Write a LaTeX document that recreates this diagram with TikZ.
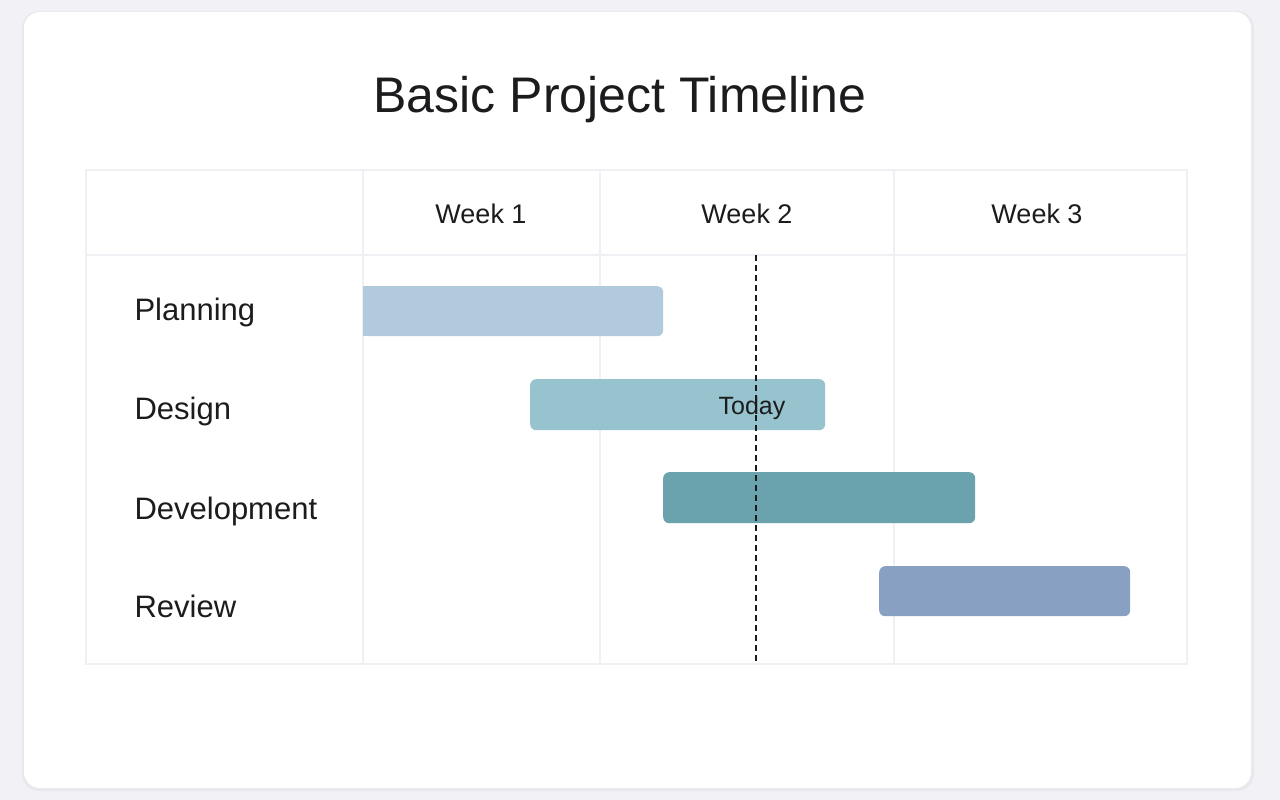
\documentclass[tikz,border=0pt]{standalone}
\usepackage{fontspec}
\setmainfont{Liberation Sans}
\definecolor{pagebg}{HTML}{F2F1F5}
\definecolor{cardedge}{HTML}{E9E8EC}
\definecolor{gridc}{HTML}{F0EFF3}
\definecolor{inkc}{HTML}{1C1C1F}
\definecolor{planc}{HTML}{B1CBDD}
\definecolor{designc}{HTML}{96C3CD}
\definecolor{devc}{HTML}{6AA2AE}
\definecolor{reviewc}{HTML}{88A0C2}
\tikzset{
  gridline/.style={draw=gridc,line width=1.2pt},
  weeklabel/.style={text=inkc,font=\fontsize{27}{32}\selectfont,anchor=base},
  rowlabel/.style={text=inkc,font=\fontsize{31}{36}\selectfont,anchor=base west},
  bar/.style={rounded corners=6pt,inner sep=0pt,anchor=north west,minimum height=50pt},
}
\begin{document}
\begin{tikzpicture}[x=1pt,y=-1pt]
\useasboundingbox (0,0) rectangle (1280,800);
\fill[pagebg] (0,0) rectangle (1280,800);
% card
\fill[cardedge,rounded corners=17pt] (22,11) rectangle (1254,791);
\fill[white,rounded corners=16pt] (24,12) rectangle (1251,788);
\node[text=inkc,font=\fontsize{50}{60}\selectfont,anchor=base] (title) at (620,112) {Basic Project Timeline};
% table grid
\draw[gridline] (86,170) rectangle (1187,664);
\draw[gridline] (86,255) -- (1187,255);
\foreach \x in {363,600,894}
  \draw[gridline] (\x,170) -- (\x,664);
\node[weeklabel] (week1) at (481,223) {Week 1};
\node[weeklabel] (week2) at (747,223) {Week 2};
\node[weeklabel] (week3) at (1037,223) {Week 3};
\node[rowlabel] (planning) at (131,320) {Planning};
\node[rowlabel] (design) at (131,419) {Design};
\node[rowlabel] (development) at (131,519) {Development};
\node[rowlabel] (review) at (131,617) {Review};
% bars
\node[bar,fill=planc,minimum width=300pt] (planbar) at (363,286) {};
\fill[planc] (363,286) rectangle (380,336);
\node[bar,fill=designc,minimum width=295pt,minimum height=51pt] (designbar) at (530,379) {};
\node[bar,fill=devc,minimum width=312pt,minimum height=51pt] (devbar) at (663,472) {};
\node[bar,fill=reviewc,minimum width=251pt] (reviewbar) at (879,566) {};
% today marker
\node[text=inkc,font=\fontsize{25}{30}\selectfont,anchor=base] (today) at (752,414) {Today};
\coordinate (nowtop) at (756,255);
\coordinate (nowbot) at (756,664);
\draw[inkc,line width=1.3pt,dash pattern=on 6pt off 4pt] (nowtop) -- (nowbot);
\end{tikzpicture}
\end{document}
